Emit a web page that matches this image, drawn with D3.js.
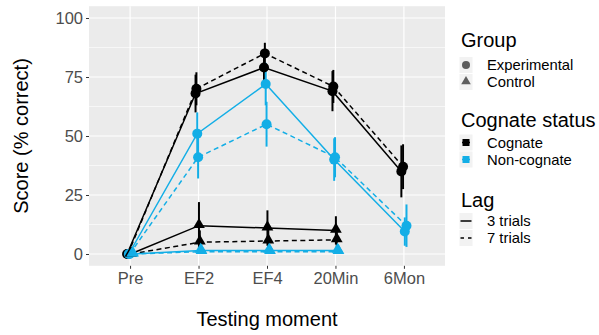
<!DOCTYPE html>
<html><head><meta charset="utf-8">
<script src="https://cdn.jsdelivr.net/npm/d3@7"></script>
<style>body{margin:0;background:#fff;} text{font-family:"Liberation Sans",Arial,sans-serif;}</style>
</head><body><svg id="c" width="599" height="335"></svg>
<script>
// ---- data ----
const categories = ["Pre", "EF2", "EF4", "20Min", "6Mon"];
const yTicks = [0, 25, 50, 75, 100];
const yMinor = [12.5, 37.5, 62.5, 87.5];
const groups = ["Experimental", "Control"];
const cognateStatus = ["Cognate", "Non-cognate"];
const lags = ["3 trials", "7 trials"];

// Experimental group (5 moments)
const expCog3 = [0, 68, 79, 69, 35];
const expCog3Err = [0, 8, 7, 8.5, 11];
const expCog7 = [0, 70, 85, 71, 37];
const expCog7Err = [0, 7, 4.5, 7, 9.5];
const expNon3 = [0, 51, 72, 40, 9.5];
const expNon3Err = [0, 9, 9, 9, 6];
const expNon7 = [0, 41, 55, 41, 12];
const expNon7Err = [0, 9, 9.5, 8.5, 9];
// Control group (4 moments)
const conCog3 = [0, 12, 11, 10];
const conCog3Err = [0, 10, 7.5, 6];
const conCog7 = [0, 5, 5.5, 6];
const conCog7Err = [0, 5, 5, 5];
const conNon3 = [0, 1.5, 1.5, 1.5];
const conNon3Err = [0, 1.5, 1.5, 1.5];
const conNon7 = [0, 1, 1, 1];
const conNon7Err = [0, 1, 1, 1];

const colors = {"Cognate": "#000000", "Non-cognate": "#13AEE6"};
const dashes = {"3 trials": null, "7 trials": "5,3.5"};

const series = [
  {g: "Experimental", c: "Cognate", l: "3 trials", v: expCog3, e: expCog3Err},
  {g: "Experimental", c: "Cognate", l: "7 trials", v: expCog7, e: expCog7Err},
  {g: "Experimental", c: "Non-cognate", l: "3 trials", v: expNon3, e: expNon3Err},
  {g: "Experimental", c: "Non-cognate", l: "7 trials", v: expNon7, e: expNon7Err},
  {g: "Control", c: "Cognate", l: "3 trials", v: conCog3, e: conCog3Err},
  {g: "Control", c: "Cognate", l: "7 trials", v: conCog7, e: conCog7Err},
  {g: "Control", c: "Non-cognate", l: "3 trials", v: conNon3, e: conNon3Err},
  {g: "Control", c: "Non-cognate", l: "7 trials", v: conNon7, e: conNon7Err}
];

// ---- layout ----
const svg = d3.select("#c");
const P = {l: 89, r: 445, t: 6.2, b: 265.8};
const x = d3.scalePoint().domain(categories).range([P.l, P.r]).padding(0.6);
const y = d3.scaleLinear().domain([-5, 105]).range([P.b, P.t]);
const dodgeW = 0.1 * x.step();

// points with dodge
const pts = series.map(s => s.v.map((v, i) => ({s, i, cat: categories[i], v, e: s.e[i]})));
categories.forEach((cat, i) => {
  const present = series.filter(s => i < s.v.length);
  const n = present.length;
  present.forEach((s, k) => {
    const p = pts[series.indexOf(s)][i];
    p.x = x(cat) + (k - (n - 1) / 2) * (dodgeW / n);
  });
});

// panel
svg.append("rect").attr("x", P.l).attr("y", P.t).attr("width", P.r - P.l).attr("height", P.b - P.t).attr("fill", "#EBEBEB");
const grid = svg.append("g");
yMinor.forEach(t => grid.append("line").attr("x1", P.l).attr("x2", P.r).attr("y1", y(t)).attr("y2", y(t)).attr("stroke", "#fff").attr("stroke-width", 0.6));
yTicks.forEach(t => grid.append("line").attr("x1", P.l).attr("x2", P.r).attr("y1", y(t)).attr("y2", y(t)).attr("stroke", "#fff").attr("stroke-width", 1.2));
categories.forEach(c => grid.append("line").attr("x1", x(c)).attr("x2", x(c)).attr("y1", P.t).attr("y2", P.b).attr("stroke", "#fff").attr("stroke-width", 1.2));

// axes
const yAxis = svg.append("g").attr("transform", `translate(${P.l},0)`).call(d3.axisLeft(y).tickValues(yTicks).tickSize(3).tickPadding(3));
const xAxis = svg.append("g").attr("transform", `translate(0,${P.b})`).call(d3.axisBottom(x).tickSize(3).tickPadding(3));
[yAxis, xAxis].forEach(a => {
  a.select(".domain").remove();
  a.selectAll(".tick line").attr("stroke", "#333").attr("stroke-width", 1);
  a.selectAll(".tick text").attr("fill", "#4D4D4D").style("font-size", "16.5px").style("font-family", "Liberation Sans, Arial, sans-serif");
});

svg.append("text").attr("transform", "translate(21,136) rotate(-90)").attr("text-anchor", "middle").attr("dominant-baseline", "central").style("font-size", "20px").text("Score (% correct)");
svg.append("text").attr("x", (P.l + P.r) / 2).attr("y", 319).attr("text-anchor", "middle").attr("dominant-baseline", "central").style("font-size", "20px").text("Testing moment");

// lines
const line = d3.line().x(d => d.x).y(d => y(d.v));
const marks = svg.append("g");
series.forEach((s, k) => {
  marks.append("path").datum(pts[k]).attr("d", line).attr("fill", "none")
    .attr("stroke", colors[s.c]).attr("stroke-width", 1.5).attr("stroke-dasharray", dashes[s.l]);
});
// error bars
series.forEach((s, k) => {
  pts[k].forEach(p => {
    if (p.e > 0) marks.append("line").attr("x1", p.x).attr("x2", p.x).attr("y1", y(p.v - p.e)).attr("y2", y(p.v + p.e))
      .attr("stroke", colors[s.c]).attr("stroke-width", 2);
  });
});
// points
const tri = d3.symbol(d3.symbolTriangle, 60);
series.forEach((s, k) => {
  pts[k].forEach(p => {
    if (s.g === "Experimental") marks.append("circle").attr("cx", p.x).attr("cy", y(p.v)).attr("r", 5).attr("fill", colors[s.c]);
    else marks.append("path").attr("d", tri()).attr("transform", `translate(${p.x},${y(p.v) - 1})`).attr("fill", colors[s.c]);
  });
});

// legend
const lg = svg.append("g");
const keyX = 466, txtX = 487;
function title(t, yy) { lg.append("text").attr("x", 461).attr("y", yy).attr("dominant-baseline", "central").style("font-size", "20px").text(t); }
function label(t, yy) { lg.append("text").attr("x", txtX).attr("y", yy).attr("dominant-baseline", "central").style("font-size", "14.8px").text(t); }
function keyBg(yy) { lg.append("rect").attr("x", keyX - 6.5).attr("y", yy - 8).attr("width", 13).attr("height", 16).attr("fill", "#F2F2F2"); }

title("Group", 40);
const gy = [65, 82];
groups.forEach((g, i) => {
  keyBg(gy[i]);
  if (i === 0) lg.append("circle").attr("cx", keyX).attr("cy", gy[i]).attr("r", 4).attr("fill", "#5E5E5E");
  else lg.append("path").attr("d", d3.symbol(d3.symbolTriangle, 40)()).attr("transform", `translate(${keyX},${gy[i] - 0.5})`).attr("fill", "#5E5E5E");
  label(g, gy[i]);
});

title("Cognate status", 120);
const cy = [142.5, 159.5];
cognateStatus.forEach((c, i) => {
  keyBg(cy[i]);
  lg.append("line").attr("x1", keyX - 4).attr("x2", keyX + 4).attr("y1", cy[i]).attr("y2", cy[i]).attr("stroke", colors[c]).attr("stroke-width", 1.5);
  lg.append("rect").attr("x", keyX - 3.5).attr("y", cy[i] - 3.5).attr("width", 7).attr("height", 7).attr("fill", colors[c]);
  label(c, cy[i]);
});

title("Lag", 200);
const ly = [221, 238];
lags.forEach((l, i) => {
  keyBg(ly[i]);
  lg.append("line").attr("x1", keyX - 5.5).attr("x2", keyX + 5.5).attr("y1", ly[i]).attr("y2", ly[i]).attr("stroke", "#000").attr("stroke-width", 1.5).attr("stroke-dasharray", l === "7 trials" ? "3.5,4" : null);
  label(l, ly[i]);
});
</script></body></html>
